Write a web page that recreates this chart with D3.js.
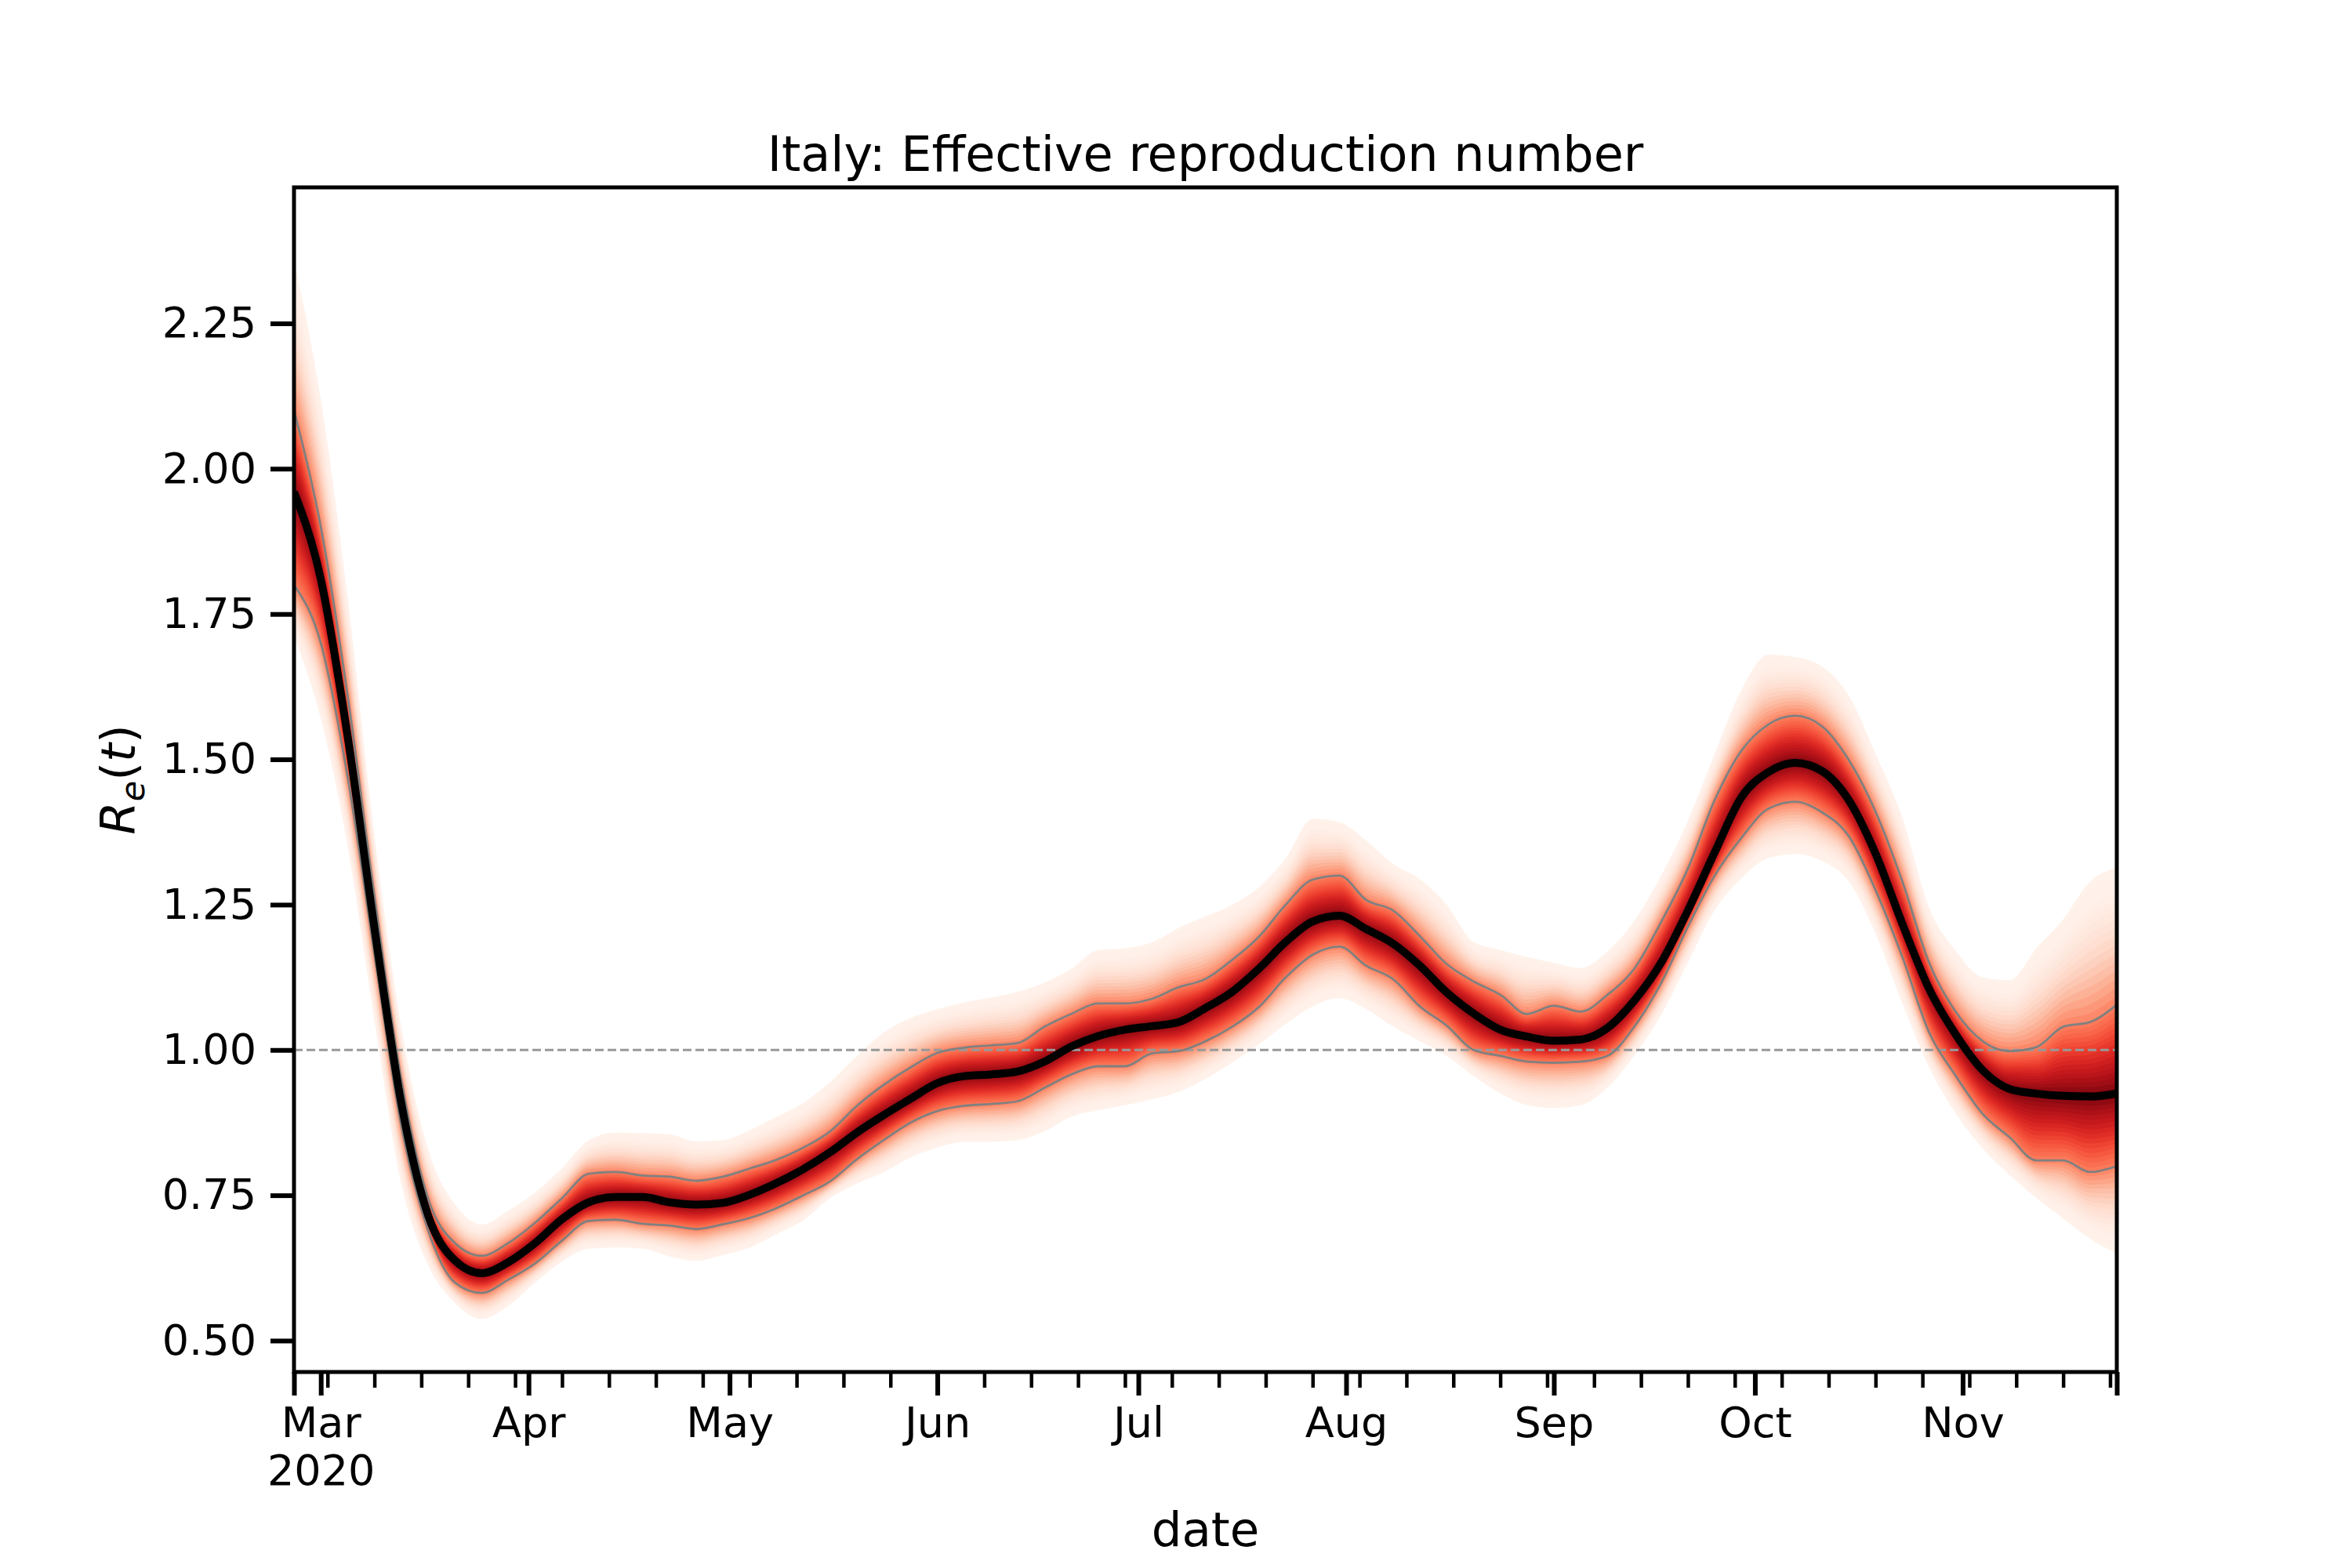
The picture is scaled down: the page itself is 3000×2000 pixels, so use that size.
<!DOCTYPE html>
<html>
<head>
<meta charset="utf-8">
<script src="https://cdn.jsdelivr.net/npm/d3@7"></script>
<style>
  body { margin: 0; background: #fff; }
  text { font-family: "DejaVu Sans", sans-serif; }
</style>
</head>
<body>
<div id="chart"></div>
<script>
// values, one every 4 days
const dates = [
  "2020-02-26","2020-03-01","2020-03-05","2020-03-09","2020-03-13","2020-03-17","2020-03-21","2020-03-25",
  "2020-03-29","2020-04-02","2020-04-06","2020-04-10","2020-04-14","2020-04-18","2020-04-22","2020-04-26",
  "2020-04-30","2020-05-04","2020-05-08","2020-05-12","2020-05-16","2020-05-20","2020-05-24","2020-05-28",
  "2020-06-01","2020-06-05","2020-06-09","2020-06-13","2020-06-17","2020-06-21","2020-06-25","2020-06-29",
  "2020-07-03","2020-07-07","2020-07-11","2020-07-15","2020-07-19","2020-07-23","2020-07-27","2020-07-31",
  "2020-08-04","2020-08-08","2020-08-12","2020-08-16","2020-08-20","2020-08-24","2020-08-28","2020-09-01",
  "2020-09-05","2020-09-09","2020-09-13","2020-09-17","2020-09-21","2020-09-25","2020-09-29","2020-10-03",
  "2020-10-07","2020-10-11","2020-10-15","2020-10-19","2020-10-23","2020-10-27","2020-10-31","2020-11-04",
  "2020-11-08","2020-11-12","2020-11-16","2020-11-20","2020-11-24"
];

const median = [
  1.96, 1.81, 1.54, 1.21, 0.909, 0.716, 0.638, 0.616, 0.635, 0.668, 0.709, 0.738, 0.747, 0.747, 0.738, 0.734,
  0.737, 0.751, 0.771, 0.795, 0.824, 0.858, 0.888, 0.916, 0.943, 0.955, 0.958, 0.963, 0.980, 1.006, 1.024, 1.035,
  1.041, 1.048, 1.072, 1.100, 1.140, 1.186, 1.221, 1.231, 1.208, 1.183, 1.145, 1.099, 1.063, 1.035, 1.023, 1.016,
  1.018, 1.038, 1.085, 1.150, 1.240, 1.340, 1.435, 1.478, 1.494, 1.480, 1.430, 1.338, 1.217, 1.105, 1.026, 0.965,
  0.933, 0.925, 0.921, 0.920, 0.925
];

const grayHi = [
  2.10, 1.90, 1.61, 1.265, 0.95, 0.745, 0.668, 0.646, 0.668, 0.703, 0.745, 0.787, 0.790, 0.784, 0.782, 0.775,
  0.782, 0.796, 0.811, 0.832, 0.860, 0.904, 0.940, 0.970, 0.995, 1.004, 1.008, 1.012, 1.040, 1.062, 1.080, 1.080,
  1.088, 1.108, 1.122, 1.155, 1.195, 1.250, 1.293, 1.300, 1.258, 1.240, 1.196, 1.148, 1.118, 1.095, 1.062, 1.076,
  1.066, 1.095, 1.140, 1.220, 1.312, 1.430, 1.515, 1.560, 1.575, 1.557, 1.499, 1.410, 1.290, 1.150, 1.065, 1.015,
  0.998, 1.005, 1.040, 1.048, 1.078
];

const grayLo = [
  1.80, 1.70, 1.47, 1.165, 0.87, 0.69, 0.600, 0.582, 0.605, 0.633, 0.672, 0.706, 0.708, 0.701, 0.698, 0.692,
  0.700, 0.711, 0.728, 0.750, 0.774, 0.812, 0.845, 0.875, 0.895, 0.904, 0.907, 0.912, 0.935, 0.958, 0.972, 0.972,
  0.994, 0.998, 1.015, 1.040, 1.074, 1.125, 1.164, 1.178, 1.145, 1.122, 1.075, 1.042, 1.000, 0.990, 0.980, 0.978,
  0.980, 0.990, 1.040, 1.115, 1.212, 1.300, 1.365, 1.415, 1.427, 1.409, 1.368, 1.275, 1.160, 1.030, 0.955, 0.890,
  0.850, 0.810, 0.810, 0.790, 0.800
];

const outerHi = [
  2.36, 2.12, 1.78, 1.37, 1.04, 0.83, 0.735, 0.700, 0.724, 0.755, 0.797, 0.845, 0.858, 0.857, 0.855, 0.843,
  0.845, 0.862, 0.885, 0.909, 0.945, 0.990, 1.030, 1.055, 1.070, 1.082, 1.090, 1.100, 1.116, 1.140, 1.172, 1.175,
  1.185, 1.210, 1.230, 1.250, 1.280, 1.330, 1.398, 1.392, 1.360, 1.320, 1.294, 1.250, 1.186, 1.172, 1.160, 1.150,
  1.141, 1.170, 1.222, 1.300, 1.395, 1.510, 1.620, 1.680, 1.676, 1.660, 1.610, 1.510, 1.400, 1.245, 1.170, 1.125,
  1.120, 1.175, 1.225, 1.290, 1.314
];

const outerLo = [
  1.71, 1.57, 1.35, 1.05, 0.77, 0.63, 0.565, 0.537, 0.560, 0.600, 0.636, 0.658, 0.660, 0.658, 0.645, 0.637,
  0.647, 0.660, 0.683, 0.707, 0.745, 0.770, 0.790, 0.815, 0.832, 0.842, 0.842, 0.845, 0.860, 0.885, 0.896, 0.905,
  0.915, 0.928, 0.950, 0.978, 1.010, 1.045, 1.075, 1.089, 1.070, 1.040, 1.015, 0.990, 0.955, 0.925, 0.905, 0.900,
  0.905, 0.935, 0.990, 1.060, 1.150, 1.240, 1.295, 1.330, 1.337, 1.325, 1.290, 1.200, 1.080, 0.970, 0.890, 0.830,
  0.785, 0.745, 0.710, 0.675, 0.650
];

const monthTicks = ["2020-03-01","2020-04-01","2020-05-01","2020-06-01","2020-07-01",
                    "2020-08-01","2020-09-01","2020-10-01","2020-11-01"];
const yTicks = [0.5, 0.75, 1.0, 1.25, 1.5, 1.75, 2.0, 2.25];
const xStart = "2020-02-26", xEnd = "2020-11-24";
const yDomain = [0.446, 2.484];

const W = 3000, H = 2000;
const margin = {top: 239, right: 300, bottom: 250, left: 375};
const width = W - margin.left - margin.right,
      height = H - margin.top - margin.bottom;

const parse = d3.timeParse("%Y-%m-%d");
const rows = dates.map((d, i) => ({
  date: parse(d), med: median[i], gLo: grayLo[i], gHi: grayHi[i], oLo: outerLo[i], oHi: outerHi[i]
}));

const root = d3.select("#chart").append("svg")
  .attr("width", W).attr("height", H)
  .style("background", "#fff");

const svg = root.append("g")
  .attr("transform", "translate(" + margin.left + "," + margin.top + ")");

svg.append("clipPath").attr("id", "clip")
  .append("rect").attr("width", width).attr("height", height);

const x = d3.scaleTime().domain([parse(xStart), parse(xEnd)]).range([0, width]);
const y = d3.scaleLinear().domain(yDomain).range([height, 0]);
const curve = d3.curveMonotoneX;

// fan of shaded bands, light at the outside, dark next to the median
const plot = svg.append("g").attr("clip-path", "url(#clip)");
const nOut = 16, nIn = 16;
for (let i = 0; i < nOut; i++) {
  const g = 1 - i / nOut;
  const t = 0.02 + 0.43 * Math.pow(1 - g, 1.8);
  plot.append("path").datum(rows)
    .attr("fill", d3.interpolateReds(t))
    .attr("d", d3.area().curve(curve)
      .x(d => x(d.date))
      .y0(d => y(d.gLo + (d.oLo - d.gLo) * g))
      .y1(d => y(d.gHi + (d.oHi - d.gHi) * g)));
}
for (let i = 0; i < nIn; i++) {
  const f = 1 - i / nIn;
  const t = 1 - 0.55 * Math.pow(f, 0.9);
  plot.append("path").datum(rows)
    .attr("fill", d3.interpolateReds(t))
    .attr("d", d3.area().curve(curve)
      .x(d => x(d.date))
      .y0(d => y(d.med + (d.gLo - d.med) * f))
      .y1(d => y(d.med + (d.gHi - d.med) * f)));
}

// reference line at 1
plot.append("line")
  .attr("x1", 0).attr("x2", width)
  .attr("y1", y(1)).attr("y2", y(1))
  .attr("stroke", "#999")
  .attr("stroke-width", 3)
  .attr("stroke-dasharray", "11,5");

// gray interval lines
["gLo", "gHi"].forEach(k => {
  plot.append("path").datum(rows)
    .attr("fill", "none")
    .attr("stroke", "#808080")
    .attr("stroke-width", 2.8)
    .attr("d", d3.line().curve(curve).x(d => x(d.date)).y(d => y(d[k])));
});

// median
plot.append("path").datum(rows)
  .attr("fill", "none")
  .attr("stroke", "#000")
  .attr("stroke-width", 10)
  .attr("stroke-linejoin", "round")
  .attr("d", d3.line().curve(curve).x(d => x(d.date)).y(d => y(d.med)));

// Y axis
svg.append("g")
  .call(d3.axisLeft(y).tickValues(yTicks).tickSize(30).tickPadding(18).tickFormat(d3.format(".2f")))
  .call(g => g.select(".domain").remove())
  .attr("font-size", 54)
  .attr("font-family", "DejaVu Sans")
  .call(g => g.selectAll("line").attr("stroke-width", 6))
  .call(g => g.selectAll("text").attr("fill", "#000"));

// X axis: weekly minor ticks on Mondays
svg.append("g")
  .attr("transform", "translate(0," + height + ")")
  .call(d3.axisBottom(x)
    .tickValues(d3.timeMonday.range(x.domain()[0], d3.timeDay.offset(x.domain()[1], 1)))
    .tickSize(20).tickFormat(""))
  .call(g => g.select(".domain").remove())
  .call(g => g.selectAll("line").attr("stroke-width", 4.5));

// X axis: month ticks plus the two ends
const majorTicks = [parse(xStart)].concat(monthTicks.map(parse), [parse(xEnd)]);
const monthSet = new Set(monthTicks);
const fmtKey = d3.timeFormat("%Y-%m-%d");
const xg = svg.append("g")
  .attr("transform", "translate(0," + height + ")")
  .call(d3.axisBottom(x).tickValues(majorTicks).tickSize(30).tickPadding(15)
    .tickFormat(d => monthSet.has(fmtKey(d)) ? d3.timeFormat("%b")(d) : ""))
  .call(g => g.select(".domain").remove())
  .attr("font-size", 54)
  .attr("font-family", "DejaVu Sans")
  .call(g => g.selectAll("line").attr("stroke-width", 6))
  .call(g => g.selectAll("text").attr("fill", "#000"));

xg.selectAll("text")
  .filter(d => fmtKey(d) === monthTicks[0])
  .append("tspan")
  .attr("x", 0).attr("dy", 61)
  .text("2020");

// frame
svg.append("rect")
  .attr("width", width).attr("height", height)
  .attr("fill", "none").attr("stroke", "#000").attr("stroke-width", 5);

// title and labels
svg.append("text")
  .attr("x", width / 2).attr("y", -21)
  .attr("text-anchor", "middle")
  .attr("font-size", 62)
  .text("Italy: Effective reproduction number");

root.append("text")
  .attr("x", margin.left + width / 2).attr("y", 1972)
  .attr("text-anchor", "middle")
  .attr("font-size", 61)
  .text("date");

const yl = root.append("text")
  .attr("transform", "translate(172," + (margin.top + height / 2) + ") rotate(-90)")
  .attr("text-anchor", "middle")
  .attr("font-size", 61);
yl.append("tspan").attr("font-style", "italic").text("R");
yl.append("tspan").attr("font-style", "italic").attr("font-size", 43).attr("dy", 12).text("e");
yl.append("tspan").attr("dy", -12).text("(");
yl.append("tspan").attr("font-style", "italic").text("t");
yl.append("tspan").text(")");
</script>
</body>
</html>
